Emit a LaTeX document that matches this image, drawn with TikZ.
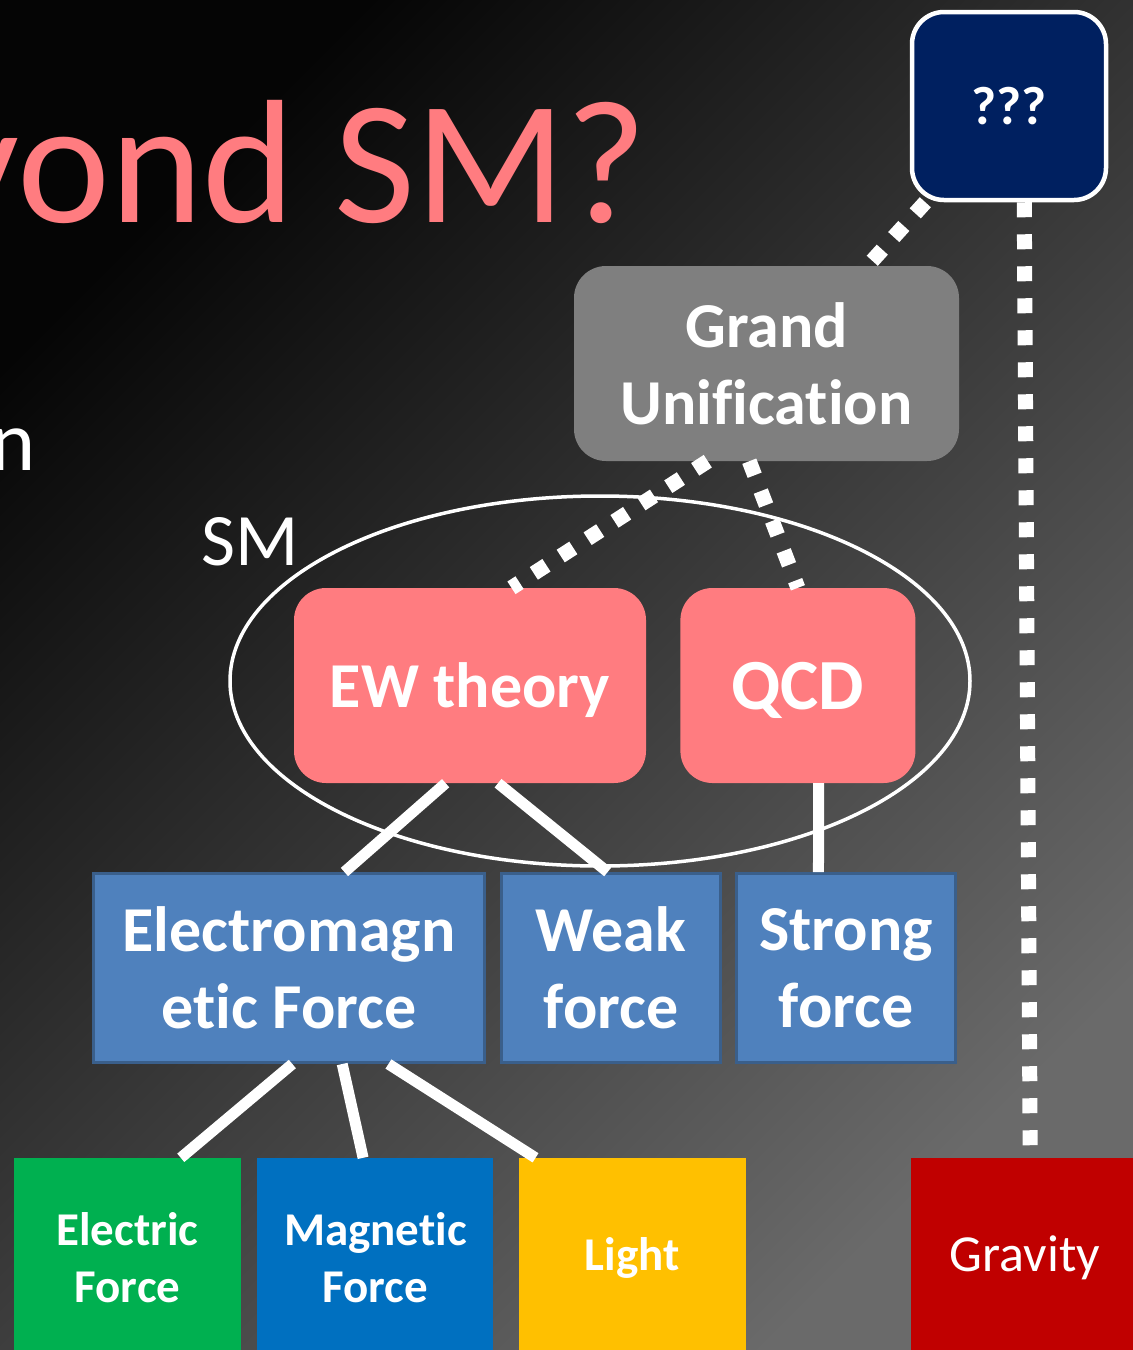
\documentclass[tikz,border=0pt]{standalone}
\usepackage{fontspec}
\setmainfont{Carlito}[Ligatures=NoCommon]
\usetikzlibrary{positioning, shapes.geometric}

\definecolor{salmon}{HTML}{FF7C80}
\definecolor{navy}{HTML}{002060}
\definecolor{slate}{HTML}{7F7F7F}
\definecolor{steel}{HTML}{4F81BD}
\definecolor{steeldark}{HTML}{3A5F8B}
\definecolor{leafgreen}{HTML}{00B050}
\definecolor{leafblue}{HTML}{0070C0}
\definecolor{gold}{HTML}{FFC000}
\definecolor{brick}{HTML}{C00000}
\definecolor{bgtop}{HTML}{050505}
\definecolor{bgmid}{HTML}{262626}
\definecolor{bgbot}{HTML}{6A6A6A}

\begin{document}
\begin{tikzpicture}[x=1pt, y=-1pt,
      tile/.style={inner sep=0pt, align=center, text=white,
                   font=\bfseries\fontsize{64}{77}\selectfont},
      theory/.style={tile, fill=salmon, rounded corners=32pt, minimum height=195pt,
                     text depth=0pt},
      force/.style={tile, fill=steel, draw=steeldark, line width=3pt, minimum height=189pt},
      leaf/.style={tile, minimum height=200pt, font=\bfseries\fontsize{47}{57}\selectfont},
      link/.style={white, line width=11pt},
      guess/.style={white, line width=15pt, dash pattern=on 15pt off 17pt}]
    \useasboundingbox (0,0) rectangle (1133,1350);
    \clip (0,0) rectangle (1133,1350);
    \shade[shading=axis, top color=bgtop, middle color=bgmid, bottom color=bgbot,
           shading angle=45] (0,0) rectangle (1133,1350);
    % slide text cut by the frame
    \node[anchor=base east, inner sep=0pt, text=salmon,
          font=\fontsize{176}{176}\selectfont] (ttl) at (648,222) {yond SM?};
    \node[anchor=base east, inner sep=0pt, text=white,
          font=\fontsize{86}{86}\selectfont] (lead) at (36,470) {n};
    % standard model
    \node[draw=white, line width=3.5pt, ellipse, inner sep=0pt,
          minimum width=740pt, minimum height=370pt] (sm) at (600,681) {};
    \node[anchor=base west, inner sep=0pt, text=white,
          font=\fontsize{74}{74}\selectfont] (smlbl) at (201,565) {SM};
    \node[tile, fill=navy, draw=white, line width=4.5pt, rounded corners=32pt,
          minimum width=194pt, minimum height=188pt,
          font=\bfseries\fontsize{54}{54}\selectfont] (q) at (1009,106) {???};
    \node[tile, fill=slate, rounded corners=32pt, minimum width=385pt,
          minimum height=195pt] (gut) at (766.5,363.5) {Grand\\Unification};
    \node[theory, minimum width=352pt] (ew) at (470,685.5) {EW theory};
    \node[theory, minimum width=235pt, right=34pt of ew,
          font=\bfseries\fontsize{72}{72}\selectfont] (qcd) {QCD};
    % forces
    \node[force, minimum width=391pt] (em) at (289,968) {Electromagn\\etic Force};
    \node[force, minimum width=219pt, right=14pt of em] (weak) {Weak\\force};
    \node[force, minimum width=219pt, right=13pt of weak] (strong) {Strong\\force};
    \node[leaf, fill=leafgreen, minimum width=227pt] (elec) at (127.5,1258) {Electric\\Force};
    \node[leaf, fill=leafblue, minimum width=236pt, right=16pt of elec] (mag) {Magnetic\\Force};
    \node[leaf, fill=gold, minimum width=227pt, right=25pt of mag] (light) {Light};
    \node[leaf, fill=brick, minimum width=228pt,
          font=\fontsize{52}{52}\selectfont] (grav) at (1025,1258) {Gravity};
    % edges
    \draw[link] (ew.-104) -- (em.60);
    \draw[link] (ew.-74) -- (weak.92);
    \draw[link] (qcd.-78) -- (strong.106);
    \draw[link] (em.-88) -- (elec.62);
    \draw[link] (em.-61) -- (mag.97);
    \draw[link] (em.-44) -- (light.134);
    \draw[guess] (q.-131) -- (gut.44);
    \draw[guess] (gut.-121) -- (ew.67);
    \draw[guess] (gut.-100) -- (qcd.north);
    \draw[guess] (q.-81) -- (grav.87);
  \end{tikzpicture}
\end{document}
